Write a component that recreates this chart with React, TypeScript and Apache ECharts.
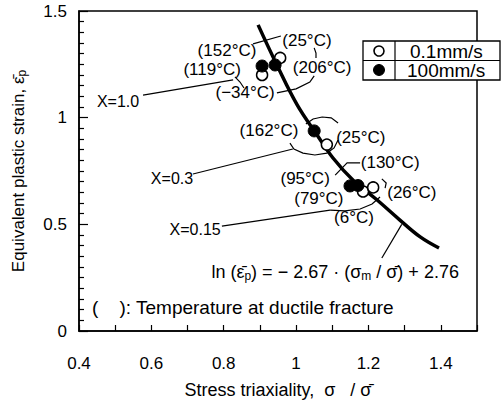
import React, { useEffect, useRef } from "react";
import * as echarts from "echarts";

// Fitted curve
const curveX = [0.895, 0.947, 1.003, 1.058, 1.102, 1.157, 1.224, 1.287, 1.343, 1.395];
const curveY = [1.435, 1.247, 1.06, 0.919, 0.811, 0.708, 0.614, 0.52, 0.441, 0.389];

// 0.1 mm/s (open circles)
const openX = [0.956, 0.906, 1.085, 1.185, 1.213];
const openY = [1.28, 1.2, 0.874, 0.654, 0.673];

// 100 mm/s (filled circles)
const filledX = [0.906, 0.942, 1.05, 1.149, 1.171];
const filledY = [1.242, 1.247, 0.938, 0.68, 0.682];

const xTicks = [0.4, 0.6, 0.8, 1, 1.2, 1.4];
const yTicks = [0, 0.5, 1, 1.5];

// annotation texts, anchored in data coordinates
const tempLabels: [string, number, number][] = [
  ["(152°C)", 0.809, 1.317],
  ["(119°C)", 0.768, 1.228],
  ["(−34°C)", 0.859, 1.12],
  ["(25°C)", 1.03, 1.364],
  ["(206°C)", 1.072, 1.233],
  ["(162°C)", 0.925, 0.942],
  ["(25°C)", 1.179, 0.909],
  ["(130°C)", 1.26, 0.788],
  ["(95°C)", 1.025, 0.717],
  ["(79°C)", 1.063, 0.619],
  ["(6°C)", 1.16, 0.53],
  ["(26°C)", 1.32, 0.647],
];
const groupLabels: [string, number, number][] = [
  ["X=1.0", 0.508, 1.074],
  ["X=0.3", 0.657, 0.717],
  ["X=0.15", 0.721, 0.478],
];
const leaders: [number, number][][] = [
  [[0.577, 1.106], [0.826, 1.177]],
  [[0.831, 1.191], [0.845, 1.167], [0.856, 1.139]],
  [[0.881, 1.346], [0.958, 1.383]],
  [[1.05, 1.327], [1.055, 1.303], [1.055, 1.28]],
  [[0.947, 1.116], [1.0, 1.135], [1.038, 1.167], [1.05, 1.196]],
  [[0.715, 0.736], [0.991, 0.853]],
  [[0.983, 0.881], [0.994, 0.853], [1.019, 0.834], [1.052, 0.825], [1.085, 0.834], [1.105, 0.858], [1.116, 0.895]],
  [[1.027, 0.97], [1.047, 0.994], [1.072, 1.003], [1.097, 0.999], [1.116, 0.975]],
  [[0.795, 0.492], [1.094, 0.567]],
  [[1.094, 0.567], [1.135, 0.563], [1.177, 0.572], [1.21, 0.595], [1.232, 0.628]],
  [[1.177, 0.788], [1.141, 0.788], [1.108, 0.731]],
  [[1.237, 0.713], [1.249, 0.694], [1.246, 0.67]],
  [[1.237, 0.342], [1.292, 0.5]],
];
const formulaPos: [number, number] = [1.108, 0.277];
const notePos: [number, number] = [0.436, 0.1125];

const FONT = "'Liberation Sans', Arial, Helvetica, sans-serif";

export default function App() {
  const ref = useRef<HTMLDivElement>(null);
  useEffect(() => {
    if (!ref.current) return;
    const chart = echarts.init(ref.current, null, { renderer: "svg" });
    const pair = (xs: number[], ys: number[]) => xs.map((x, i) => [x, ys[i]]);
    chart.setOption({
      animation: false,
      backgroundColor: "#fff",
      textStyle: { fontFamily: FONT, color: "#000" },
      grid: {
        left: 79, top: 11, right: 27, bottom: 70,
        outerBoundsMode: "none", containLabel: false,
        show: true, borderColor: "#000", borderWidth: 1.5, backgroundColor: "transparent",
      },
      xAxis: {
        type: "value", min: 0.4, max: 1.5, interval: 0.1,
        axisLine: { lineStyle: { color: "#000", width: 1.5 } },
        axisTick: { inside: true, length: 6, lineStyle: { color: "#000", width: 1.2 } },
        splitLine: { show: false },
        axisLabel: {
          margin: 24, fontSize: 17, color: "#000", fontFamily: FONT,
          formatter: (v: number) => {
            const r = Math.round(v * 10) / 10;
            return xTicks.some((t) => Math.abs(t - r) < 1e-6) ? String(r) : "";
          },
        },
        name: "Stress triaxiality,  σ   / σ̄",
        nameLocation: "middle", nameGap: 50,
        nameTextStyle: { fontSize: 18, color: "#000", fontFamily: FONT },
      },
      yAxis: {
        type: "value", min: 0, max: 1.5, interval: 0.5,
        axisLine: { lineStyle: { color: "#000", width: 1.5 } },
        axisTick: { inside: true, length: 9, lineStyle: { color: "#000", width: 1.2 } },
        minorTick: { show: true, splitNumber: 10, length: 5, lineStyle: { color: "#000", width: 1.2 } },
        splitLine: { show: false },
        axisLabel: {
          margin: 12, fontSize: 17, color: "#000", fontFamily: FONT,
          formatter: (v: number) => (yTicks.some((t) => Math.abs(t - v) < 1e-6) ? String(v) : ""),
        },
        name: "{n|Equivalent plastic strain, ε̄}{s|p}",
        nameLocation: "middle", nameGap: 51,
        nameTextStyle: {
          fontSize: 17, color: "#000", fontFamily: FONT,
          rich: {
            n: { fontSize: 17, fontFamily: FONT, color: "#000" },
            s: { fontSize: 12, fontFamily: FONT, color: "#000", padding: [8, 0, 0, 0] },
          },
        },
      },
      series: [
        {
          type: "line", data: pair(curveX, curveY), smooth: 0.4, symbol: "none",
          lineStyle: { color: "#000", width: 3.5 }, z: 2,
        },
        {
          type: "scatter", data: pair(openX, openY), symbol: "circle", symbolSize: 11,
          itemStyle: { color: "#fff", borderColor: "#000", borderWidth: 1.5, opacity: 1 }, z: 3,
        },
        {
          type: "scatter", data: pair(filledX, filledY), symbol: "circle", symbolSize: 12,
          itemStyle: { color: "#000", borderColor: "#000", borderWidth: 1, opacity: 1 }, z: 4,
        },
      ],
    });

    const px = (p: [number, number]) => chart.convertToPixel({ gridIndex: 0 }, p) as number[];
    const graphics: any[] = [];
    leaders.forEach((pts) => {
      graphics.push({
        type: "polyline", silent: true, z: 10,
        shape: { points: pts.map((p) => px(p)) },
        style: { stroke: "#000", lineWidth: 1.2, fill: null },
      });
    });
    tempLabels.forEach(([t, x, y]) => {
      const [X, Y] = px([x, y]);
      graphics.push({
        type: "text", x: X, y: Y, z: 11,
        style: { text: t, font: `17px ${FONT}`, fill: "#000", align: "center", verticalAlign: "middle" },
      });
    });
    groupLabels.forEach(([t, x, y]) => {
      const [X, Y] = px([x, y]);
      graphics.push({
        type: "text", x: X, y: Y, z: 11,
        style: { text: t, font: `16px ${FONT}`, fill: "#000", align: "center", verticalAlign: "middle" },
      });
    });
    {
      const [X, Y] = px(formulaPos);
      graphics.push({
        type: "text", x: X, y: Y, z: 11,
        style: {
          text: "{n|ln (ε̄}{s|p}{n|) = − 2.67 · (σ}{s|m}{n| / σ̄) + 2.76}",
          align: "center", verticalAlign: "middle", fill: "#000",
          rich: {
            n: { fontSize: 18, fontFamily: FONT, fill: "#000" },
            s: { fontSize: 12, fontFamily: FONT, fill: "#000", padding: [8, 0, 0, 0] },
          },
        },
      });
    }
    {
      const [X, Y] = px(notePos);
      graphics.push({
        type: "text", x: X, y: Y, z: 11,
        style: { text: "(    ): Temperature at ductile fracture", font: `19px ${FONT}`, fill: "#000", align: "left", verticalAlign: "middle" },
      });
    }
    // legend table
    graphics.push({
      type: "group", z: 20,
      children: [
        { type: "rect", shape: { x: 363, y: 41, width: 137, height: 39 }, style: { fill: "#fff", stroke: "#000", lineWidth: 1.3 } },
        { type: "line", shape: { x1: 395, y1: 41, x2: 395, y2: 80 }, style: { stroke: "#000", lineWidth: 1.2 } },
        { type: "line", shape: { x1: 363, y1: 60.5, x2: 500, y2: 60.5 }, style: { stroke: "#000", lineWidth: 1.2 } },
        { type: "circle", shape: { cx: 379, cy: 51, r: 5 }, style: { fill: "#fff", stroke: "#000", lineWidth: 1.6 } },
        { type: "circle", shape: { cx: 379, cy: 70, r: 5.5 }, style: { fill: "#000", stroke: "#000", lineWidth: 1 } },
        { type: "text", x: 410, y: 51, style: { text: "0.1mm/s", font: `19px ${FONT}`, fill: "#000", align: "left", verticalAlign: "middle" } },
        { type: "text", x: 407, y: 70, style: { text: "100mm/s", font: `19px ${FONT}`, fill: "#000", align: "left", verticalAlign: "middle" } },
      ],
    });
    chart.setOption({ graphic: graphics });
    return () => chart.dispose();
  }, []);
  return <div ref={ref} style={{ position: "absolute", left: 0, top: 0, width: 504, height: 401 }} />;
}
